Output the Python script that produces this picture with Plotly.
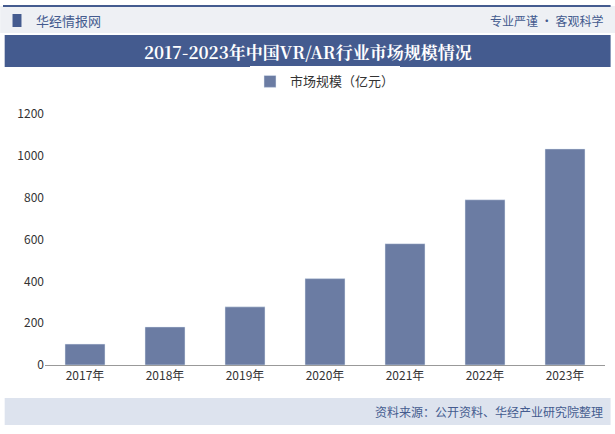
import plotly.graph_objects as go

years = ["2017年", "2018年", "2019年", "2020年", "2021年", "2022年", "2023年"]
market_size = [100, 182, 278, 413, 580, 790, 1033]
series_name = "市场规模（亿元）"

font_cjk = "Noto Sans CJK SC"

fig = go.Figure(go.Bar(
    x=years, y=market_size, name=series_name,
    marker_color="#6b7ca3", width=0.5,
))

fig.update_layout(
    width=615, height=434,
    margin=dict(l=45, r=10, t=114, b=69),
    paper_bgcolor="white", plot_bgcolor="white",
    font=dict(family=font_cjk, size=12, color="#333"),
    showlegend=True,
    legend=dict(orientation="h", x=0.5, xanchor="center", y=1.07, yanchor="bottom",
                font=dict(size=13, color="#333"), itemwidth=30),
    xaxis=dict(showline=True, linecolor="#999", ticks="", tickfont=dict(size=12)),
    yaxis=dict(range=[0, 1200], dtick=200, showgrid=False, showline=False,
               ticks="", tickfont=dict(size=12), zeroline=False),
    bargap=0.5,
)

# header band, title band, footer band
fig.add_shape(type="rect", xref="paper", yref="paper", x0=-0.08, x1=1.02,
              y0=(434 - 69 - 33) / 251, y1=(434 - 69 - 6) / 251,
              fillcolor="#eef0f4", line_width=0, layer="below")
fig.add_shape(type="line", xref="paper", yref="paper", x0=-0.075, x1=1.01,
              y0=(434 - 69 - 6) / 251, y1=(434 - 69 - 6) / 251,
              line=dict(color="#445b8f", width=2))
fig.add_shape(type="rect", xref="paper", yref="paper", x0=-0.072, x1=1.01,
              y0=(434 - 69 - 67) / 251, y1=(434 - 69 - 35) / 251,
              fillcolor="#445b8f", line_width=0)
fig.add_shape(type="rect", xref="paper", yref="paper", x0=-0.072, x1=1.01,
              y0=-(398 - 365) / 251, y1=-(425 - 365) / 251,
              fillcolor="#dde3ee", line_width=0)
fig.add_shape(type="rect", xref="paper", yref="paper", x0=-0.058, x1=-0.042,
              y0=(434 - 69 - 27) / 251, y1=(434 - 69 - 14) / 251,
              fillcolor="#445b8f", line_width=0)

fig.add_annotation(text="华经情报网", xref="paper", yref="paper", x=-0.02,
                   y=(434 - 69 - 20) / 251, xanchor="left", yanchor="middle",
                   showarrow=False, font=dict(size=13, color="#445b8f"))
fig.add_annotation(text="专业严谨 • 客观科学", xref="paper", yref="paper", x=1.0,
                   y=(434 - 69 - 20) / 251, xanchor="right", yanchor="middle",
                   showarrow=False, font=dict(size=12, color="#445b8f"))
fig.add_annotation(text="<b>2017-2023年中国VR/AR行业市场规模情况</b>", xref="paper",
                   yref="paper", x=0.47, y=(434 - 69 - 51) / 251, xanchor="center",
                   yanchor="middle", showarrow=False,
                   font=dict(size=17, color="white", family="Noto Serif CJK SC, serif"))
fig.add_annotation(text="资料来源：公开资料、华经产业研究院整理", xref="paper", yref="paper",
                   x=1.0, y=-(411 - 365) / 251, xanchor="right", yanchor="middle",
                   showarrow=False, font=dict(size=12, color="#445b8f"))

fig.write_html("out.html", config={"displayModeBar": False},
               post_script="document.body.style.margin='0';")
